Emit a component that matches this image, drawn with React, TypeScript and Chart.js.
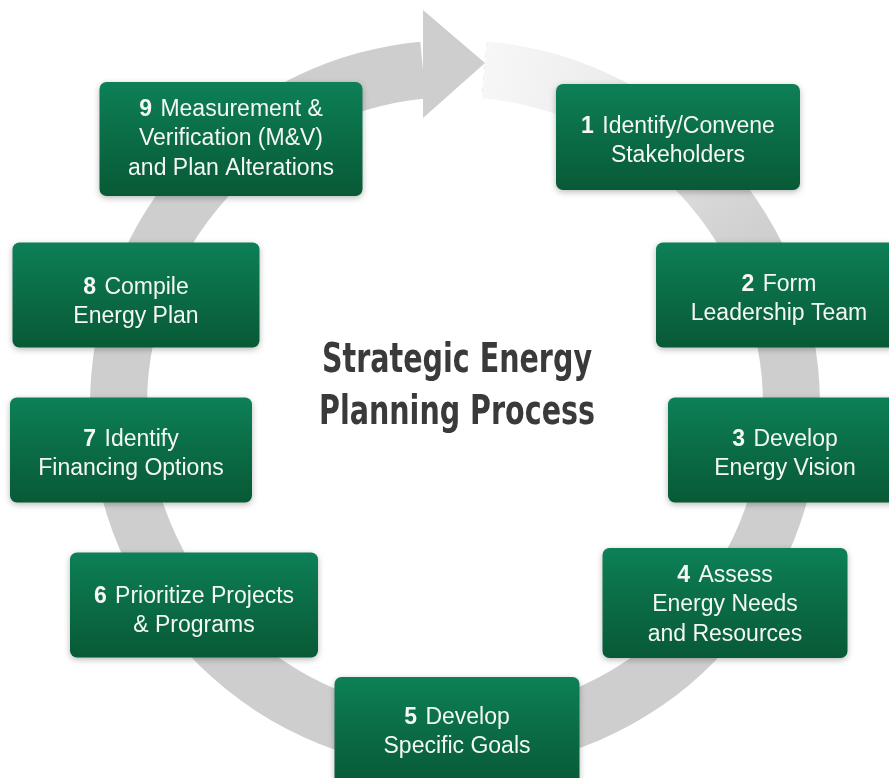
import React, { useEffect, useRef } from 'react';
import { Chart, registerables } from 'chart.js';

Chart.register(...registerables);

// ---- content ----
const STEP_NUMBERS = ['1', '2', '3', '4', '5', '6', '7', '8', '9'];
const STEP_TEXT: string[][] = [
  ['Identify/Convene', 'Stakeholders'],
  ['Form', 'Leadership Team'],
  ['Develop', 'Energy Vision'],
  ['Assess', 'Energy Needs', 'and Resources'],
  ['Develop', 'Specific Goals'],
  ['Prioritize Projects', '& Programs'],
  ['Identify', 'Financing Options'],
  ['Compile', 'Energy Plan'],
  ['Measurement &', 'Verification (M&V)', 'and Plan Alterations'],
];
const TITLE_LINES = ['Strategic Energy', 'Planning Process'];

// ---- layout (diagram coordinates) ----
const BOX_CX = [678, 779, 785, 725, 457, 194, 131, 136, 231];
const BOX_CY = [137, 295, 450, 603, 731, 605, 450, 295, 139];
const BOX_W = [244, 246, 234, 245, 245, 248, 242, 247, 263];
const BOX_H = [106, 105, 105, 110, 108, 105, 105, 105, 114];
const TEXT_CY = [141, 299, 454, 605, 732, 611, 454, 302, 139];
const TITLE_X = 457;
const TITLE_BASELINES = [372, 424];
const TITLE_WIDTH = 270;
const RING_CENTER = [455, 405];
const RING_RADII = [308, 365];
const ARROW_BASE_X = 423;
const ARROW_BASE_Y = [10, 118];
const ARROW_TIP = [485, 63];

const GRAY = '#cfcecf';

const diagramPlugin = {
  id: 'energyDiagram',
  beforeDatasetsDraw(chart: any) {
    const ctx: CanvasRenderingContext2D = chart.ctx;
    const xs = chart.scales.x;
    const ys = chart.scales.y;
    const cx = xs.getPixelForValue(RING_CENTER[0]);
    const cy = ys.getPixelForValue(RING_CENTER[1]);
    const rIn = xs.getPixelForValue(RING_CENTER[0] + RING_RADII[0]) - cx;
    const rOut = xs.getPixelForValue(RING_CENTER[0] + RING_RADII[1]) - cx;
    const tipX = xs.getPixelForValue(ARROW_TIP[0]);
    const tipY = ys.getPixelForValue(ARROW_TIP[1]);
    const baseX = xs.getPixelForValue(ARROW_BASE_X);
    const baseTop = ys.getPixelForValue(ARROW_BASE_Y[0]);
    const baseBot = ys.getPixelForValue(ARROW_BASE_Y[1]);
    const tipAngle = Math.atan2(tipY - cy, tipX - cx);
    const midR = (rIn + rOut) / 2;
    const baseMidY = cy - Math.sqrt(Math.max(0, midR * midR - (baseX - cx) * (baseX - cx)));
    const baseAngle = Math.atan2(baseMidY - cy, baseX - cx);

    ctx.save();
    // ring body (fading near the arrow tip)
    const grad = (ctx as any).createConicGradient(tipAngle, cx, cy);
    grad.addColorStop(0, '#f7f7f7');
    grad.addColorStop(0.05, '#eeeeee');
    grad.addColorStop(0.16, GRAY);
    grad.addColorStop(1, GRAY);
    ctx.beginPath();
    ctx.arc(cx, cy, rOut, tipAngle, baseAngle + Math.PI * 2, false);
    ctx.arc(cx, cy, rIn, baseAngle + Math.PI * 2, tipAngle, true);
    ctx.closePath();
    ctx.fillStyle = grad;
    ctx.fill();

    // arrow head
    ctx.beginPath();
    ctx.moveTo(baseX, baseTop);
    ctx.lineTo(tipX, tipY);
    ctx.lineTo(baseX, baseBot);
    ctx.closePath();
    ctx.fillStyle = GRAY;
    ctx.fill();
    ctx.restore();
  },
  afterDatasetsDraw(chart: any) {
    const ctx: CanvasRenderingContext2D = chart.ctx;
    const xs = chart.scales.x;
    const ys = chart.scales.y;
    const meta = chart.getDatasetMeta(0);
    const lineGap = 29.5;
    const regFont = '23px "Liberation Sans", Arial, sans-serif';
    const boldFont = 'bold 23px "Liberation Sans", Arial, sans-serif';

    meta.data.forEach((pt: any, i: number) => {
      const px = pt.x;
      const py = pt.y;
      const w = xs.getPixelForValue(BOX_CX[i] + BOX_W[i] / 2) - xs.getPixelForValue(BOX_CX[i] - BOX_W[i] / 2);
      const h = Math.abs(ys.getPixelForValue(BOX_CY[i] + BOX_H[i] / 2) - ys.getPixelForValue(BOX_CY[i] - BOX_H[i] / 2));
      const left = px - w / 2;
      const top = py - h / 2;

      ctx.save();
      ctx.shadowColor = 'rgba(0,0,0,0.28)';
      ctx.shadowBlur = 6;
      ctx.shadowOffsetY = 2;
      const g = ctx.createLinearGradient(0, top, 0, top + h);
      g.addColorStop(0, '#0d8057');
      g.addColorStop(0.5, '#0a6c45');
      g.addColorStop(1, '#085a36');
      ctx.fillStyle = g;
      ctx.beginPath();
      (ctx as any).roundRect(left, top, w, h, 7);
      ctx.fill();
      ctx.restore();

      // text
      const lines = STEP_TEXT[i];
      const tcy = ys.getPixelForValue(TEXT_CY[i]);
      ctx.save();
      ctx.fillStyle = '#f4f7f5';
      ctx.textBaseline = 'middle';
      ctx.textAlign = 'left';
      lines.forEach((line, j) => {
        const y = tcy + (j - (lines.length - 1) / 2) * lineGap;
        if (j === 0) {
          ctx.font = boldFont;
          const num = STEP_NUMBERS[i];
          const nw = ctx.measureText(num).width;
          ctx.font = regFont;
          const sw = ctx.measureText(' ').width + 2;
          const tw = ctx.measureText(line).width;
          const total = nw + sw + tw;
          let x = px - total / 2;
          ctx.font = boldFont;
          ctx.fillText(num, x, y);
          x += nw + sw;
          ctx.font = regFont;
          ctx.fillText(line, x, y);
        } else {
          ctx.font = regFont;
          const tw = ctx.measureText(line).width;
          ctx.fillText(line, px - tw / 2, y);
        }
      });
      ctx.restore();
    });

    // title
    ctx.save();
    ctx.fillStyle = '#3a3a3a';
    ctx.font = 'bold 40px "Liberation Sans Narrow", "Arial Narrow", "DejaVu Sans Condensed", sans-serif';
    ctx.textBaseline = 'alphabetic';
    ctx.textAlign = 'center';
    const tx = xs.getPixelForValue(TITLE_X);
    const targetW = xs.getPixelForValue(TITLE_X + TITLE_WIDTH / 2) - xs.getPixelForValue(TITLE_X - TITLE_WIDTH / 2);
    const refW = ctx.measureText(TITLE_LINES[0]).width;
    const sx = targetW / refW;
    TITLE_LINES.forEach((line, j) => {
      const ty = ys.getPixelForValue(TITLE_BASELINES[j]);
      ctx.save();
      ctx.translate(tx, ty);
      ctx.scale(sx, 1);
      ctx.fillText(line, 0, 0);
      ctx.restore();
    });
    ctx.restore();
  },
};

export default function App() {
  const canvasRef = useRef<HTMLCanvasElement | null>(null);

  useEffect(() => {
    if (!canvasRef.current) return;
    const chart = new Chart(canvasRef.current, {
      type: 'scatter',
      data: {
        datasets: [
          {
            data: BOX_CX.map((x, i) => ({ x, y: BOX_CY[i] })),
            pointRadius: 0,
            showLine: false,
          },
        ],
      },
      options: {
        animation: false,
        responsive: false,
        devicePixelRatio: 1,
        events: [],
        layout: { padding: 0 },
        scales: {
          x: { type: 'linear', min: 0, max: 889, display: false },
          y: { type: 'linear', min: 0, max: 778, reverse: true, display: false },
        },
        plugins: {
          legend: { display: false },
          tooltip: { enabled: false },
          title: { display: false },
        },
      },
      plugins: [diagramPlugin],
    } as any);
    return () => chart.destroy();
  }, []);

  return (
    <div style={{ position: 'absolute', left: 0, top: 0, width: 889, height: 778, background: '#ffffff' }}>
      <canvas ref={canvasRef} width={889} height={778} style={{ display: 'block' }} />
    </div>
  );
}
